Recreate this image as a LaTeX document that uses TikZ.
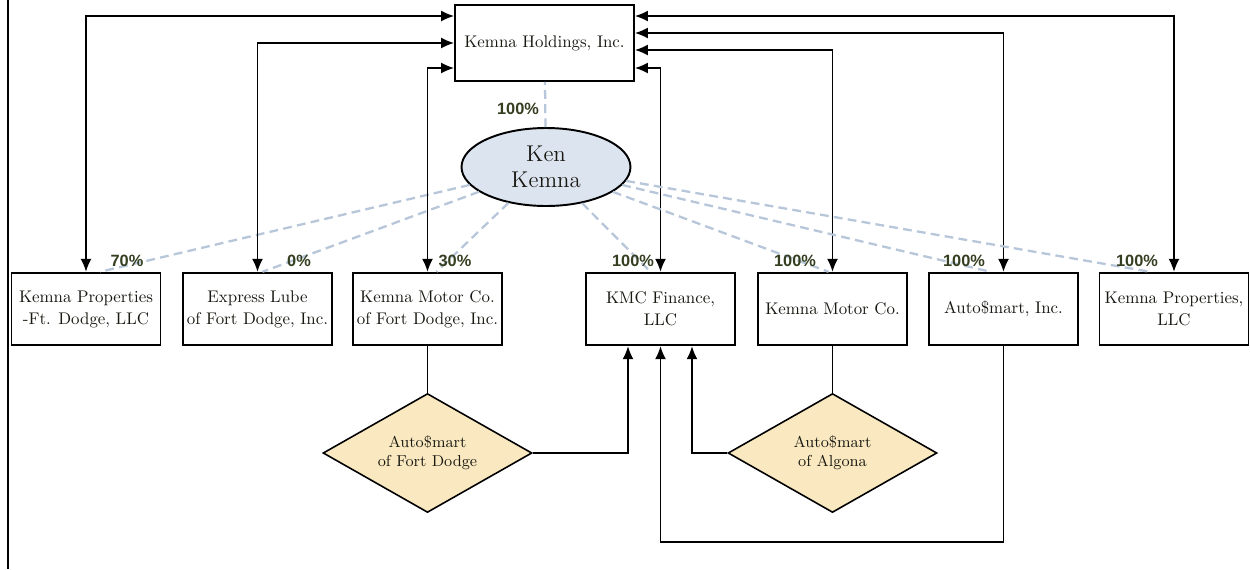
\documentclass[tikz,border=0pt]{standalone}
\usepackage{fontspec}
\newfontfamily\pctfont{Liberation Sans}
\usetikzlibrary{shapes.geometric,arrows.meta}
\definecolor{inkdark}{RGB}{25,25,18}
\definecolor{pctgreen}{RGB}{52,62,32}
\definecolor{dashblue}{RGB}{184,198,218}
\definecolor{kenfill}{RGB}{220,228,240}
\definecolor{tanfill}{RGB}{250,233,192}
\begin{document}
\begin{tikzpicture}[x=0.02cm, y=-0.02cm,
    company/.style={draw, line width=1.1pt, rectangle, minimum width=2.98cm, minimum height=1.45cm, align=center, inner sep=1pt, text=inkdark, font=\fontsize{9.6}{12.5}\selectfont},
    owner/.style={draw, line width=1.1pt, ellipse, fill=kenfill, minimum width=3.38cm, minimum height=1.56cm, inner sep=0pt, align=center, text=inkdark, font=\fontsize{13}{14.5}\selectfont},
    venture/.style={draw, line width=0.9pt, diamond, fill=tanfill, shape aspect=1.75, minimum width=4.18cm, minimum height=2.38cm, inner sep=0pt, align=center, text=inkdark, font=\fontsize{9}{11}\selectfont},
    pct/.style={inner sep=0pt, text=pctgreen, font=\pctfont\bfseries\fontsize{9.3}{11}\selectfont},
    share/.style={dashblue, line width=1.3pt, dash pattern=on 5pt off 3pt},
    link/.style={{Latex[length=2.6mm,width=2.2mm]}-{Latex[length=2.6mm,width=2.2mm]}, line width=0.85pt},
    feed/.style={-{Latex[length=2.6mm,width=2.2mm]}, line width=0.85pt},
    wire/.style={line width=0.85pt}]
    \useasboundingbox[fill=white] (0,0) rectangle (1250,569);
    \draw[line width=0.8pt] (8,0) -- (8,569);

    %––––– row 1 –––––
    \node[company, minimum width=3.58cm, minimum height=1.52cm] (a1) at (544.5,43) {Kemna Holdings, Inc.};

    %––––– row 2 –––––
    \node[owner] (b1) at (546,167) {Ken\\Kemna};
    \draw[share] (b1) -- (a1);
    \node[pct] (l0) at (518,109) {100\%};

    %––––– row 3 –––––
    \node[company] (c1) at (86,309) {Kemna Properties\\-Ft. Dodge, LLC};
    \draw[link] (c1.north) |- ([yshift=5.4mm]a1.west);
    \draw[share] (b1) -- ([xshift=2.8mm]c1.north);
    \node[pct] (l1) at (127,261) {70\%};

    \node[company] (c2) at (257.5,309) {Express Lube\\of Fort Dodge, Inc.};
    \draw[link] (c2.north) |- (a1.west);
    \draw[share] (b1) -- ([xshift=1mm]c2.north);
    \node[pct] (l2) at (299,261) {0\%};

    \node[company] (c3) at (427.5,309) {Kemna Motor Co.\\of Fort Dodge, Inc.};
    \draw[link] (c3.north) |- ([yshift=-5mm]a1.west);
    \draw[share] (b1) -- ([xshift=1.8mm]c3.north);
    \node[pct] (l3) at (455,261) {30\%};

    \node[company] (c4) at (660.5,309) {KMC Finance,\\LLC};
    \draw[link] (c4.north) |- ([yshift=-5mm]a1.east);
    \draw[share] (b1) -- ([xshift=-2mm]c4.north);
    \node[pct] (l4) at (633,261) {100\%};

    \node[company] (c5) at (832.5,309) {Kemna Motor Co.};
    \draw[link] (c5.north) |- ([yshift=-1.4mm]a1.east);
    \draw[share] (b1) -- ([xshift=-0.8mm]c5.north);
    \node[pct] (l5) at (795,261) {100\%};

    \node[company] (c6) at (1003.5,309) {Auto\$mart, Inc.};
    \draw[link] (c6.north) |- ([yshift=2mm]a1.east);
    \draw[share] (b1) -- ([xshift=-2.6mm]c6.north);
    \node[pct] (l6) at (964,261) {100\%};

    \node[company] (c7) at (1174,309) {Kemna Properties,\\LLC};
    \draw[link] (c7.north) |- ([yshift=5.4mm]a1.east);
    \draw[share] (b1) -- ([xshift=-4.8mm]c7.north);
    \node[pct] (l7) at (1137,261) {100\%};

    %––––– row 4 –––––
    \node[venture] (d1) at (427.5,453) {Auto\$mart\\of Fort Dodge};
    \draw[wire] (c3.south) -- (d1.north);
    \draw[feed] (d1.east) -| ([xshift=-6.5mm]c4.south);

    \node[venture] (d2) at (832.5,453) {Auto\$mart\\of Algona};
    \draw[wire] (c5.south) -- (d2.north);
    \draw[feed] (d2.west) -| ([xshift=6.3mm]c4.south);

    %––––– row 5 –––––
    \coordinate (e1) at (660.5,542);
    \draw[feed] (c6.south) |- (e1) -- (c4.south);
  \end{tikzpicture}
\end{document}
